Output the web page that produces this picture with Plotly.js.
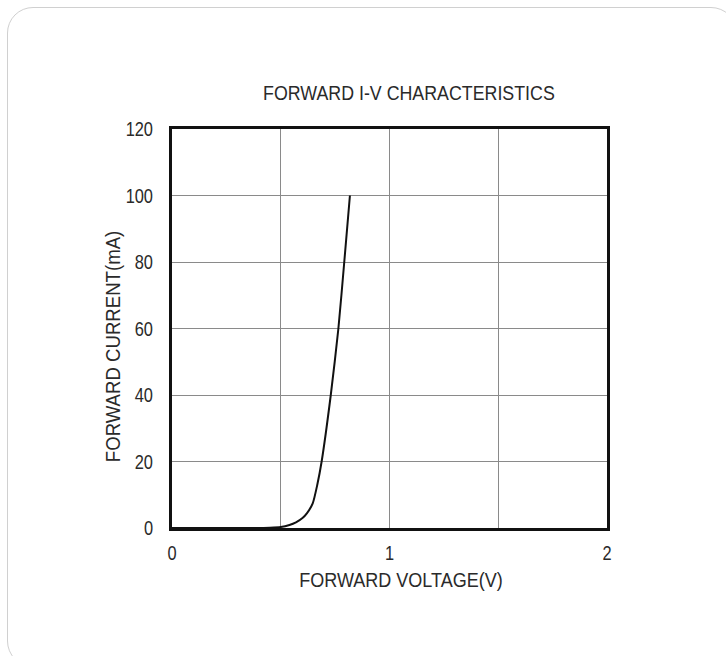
<!DOCTYPE html>
<html>
<head>
<meta charset="utf-8">
<script src="https://cdn.plot.ly/plotly-3.0.1.min.js"></script>
<style>
  html, body { margin: 0; padding: 0; background: #ffffff; overflow: hidden; width: 726px; height: 656px; }
  #card { position: absolute; left: 7px; top: 7px; width: 730px; height: 660px; border: 1px solid #d0d0d0; border-radius: 26px; box-sizing: border-box; background: #fff; }
  #chart { position: absolute; left: 0; top: 0; width: 726px; height: 656px; }
</style>
</head>
<body>
<div id="card"></div>
<div id="chart"></div>
<script>
// Forward I-V characteristic
const voltageV = [0, 0.35, 0.45, 0.5, 0.54, 0.57, 0.6, 0.62, 0.647, 0.668, 0.688, 0.73, 0.765, 0.792, 0.818];
const currentMA = [0, 0, 0.1, 0.3, 0.9, 1.7, 3, 4.4, 7.4, 13, 20, 40, 60, 80, 100];

const xTickVals = [0, 1, 2];
const xTickText = ['0', '1', '2'];
const yTickVals = [0, 20, 40, 60, 80, 100, 120];
const yTickText = ['0', '20', '40', '60', '80', '100', '120'];

const chartTitle = 'FORWARD I-V CHARACTERISTICS';
const xTitle = 'FORWARD VOLTAGE(V)';
const yTitle = 'FORWARD CURRENT(mA)';

const FONT = '"Liberation Sans Narrow", "Arial Narrow", "Liberation Sans", Arial, sans-serif';
const TXT = '#2a2a2a';

const trace = {
  x: voltageV,
  y: currentMA,
  type: 'scatter',
  mode: 'lines',
  line: { color: '#111', width: 2, shape: 'spline', smoothing: 0.6 },
  hoverinfo: 'skip',
  showlegend: false
};

const layout = {
  width: 726,
  height: 656,
  margin: { l: 172, r: 119, t: 129, b: 128 },
  paper_bgcolor: 'rgba(0,0,0,0)',
  plot_bgcolor: '#ffffff',
  font: { family: FONT, size: 20, color: TXT },
  xaxis: {
    range: [0, 2],
    tickvals: xTickVals,
    ticktext: xTickText,
    showgrid: true,
    gridcolor: '#8a8a8a',
    gridwidth: 1,
    minor: { dtick: 0.5, showgrid: true, gridcolor: '#8a8a8a', gridwidth: 1 },
    zeroline: false,
    showline: true,
    mirror: true,
    linecolor: '#111',
    linewidth: 3,
    ticks: '',
    ticklabelstandoff: 5,
    tickfont: { family: FONT, size: 20, color: TXT },
    fixedrange: true
  },
  yaxis: {
    range: [0, 120],
    tickvals: yTickVals,
    ticktext: yTickText,
    showgrid: true,
    gridcolor: '#8a8a8a',
    gridwidth: 1,
    zeroline: false,
    showline: true,
    mirror: true,
    linecolor: '#111',
    linewidth: 3,
    ticks: '',
    ticklabelstandoff: 12,
    tickfont: { family: FONT, size: 20, color: TXT },
    fixedrange: true
  },
  annotations: [
    { text: chartTitle, xref: 'paper', yref: 'paper', x: 0.545, y: 1.09, xanchor: 'center', yanchor: 'middle', showarrow: false, font: { family: FONT, size: 20, color: TXT } },
    { text: xTitle, xref: 'paper', yref: 'paper', x: 0.526, y: -0.13, xanchor: 'center', yanchor: 'middle', showarrow: false, font: { family: FONT, size: 20, color: TXT } },
    { text: yTitle, xref: 'paper', yref: 'paper', x: -0.136, y: 0.456, xanchor: 'center', yanchor: 'middle', textangle: -90, showarrow: false, font: { family: FONT, size: 20, color: TXT } }
  ]
};

// horizontal condensing of glyphs to mimic the narrow typeface of the original
function condense(el, f) {
  const len = el.getComputedTextLength();
  if (!len) return;
  el.setAttribute('textLength', (len * f).toFixed(2));
  el.setAttribute('lengthAdjust', 'spacingAndGlyphs');
}

Plotly.newPlot('chart', [trace], layout, { staticPlot: true, displayModeBar: false }).then(function (gd) {
  gd.querySelectorAll('.xtick text, .ytick text').forEach(function (t) { condense(t, 0.82); });
  const ann = gd.querySelectorAll('.annotation-text');
  const factors = [0.89, 0.9, 0.93];
  ann.forEach(function (t, i) { condense(t, factors[i] || 0.9); });
});
</script>
</body>
</html>
